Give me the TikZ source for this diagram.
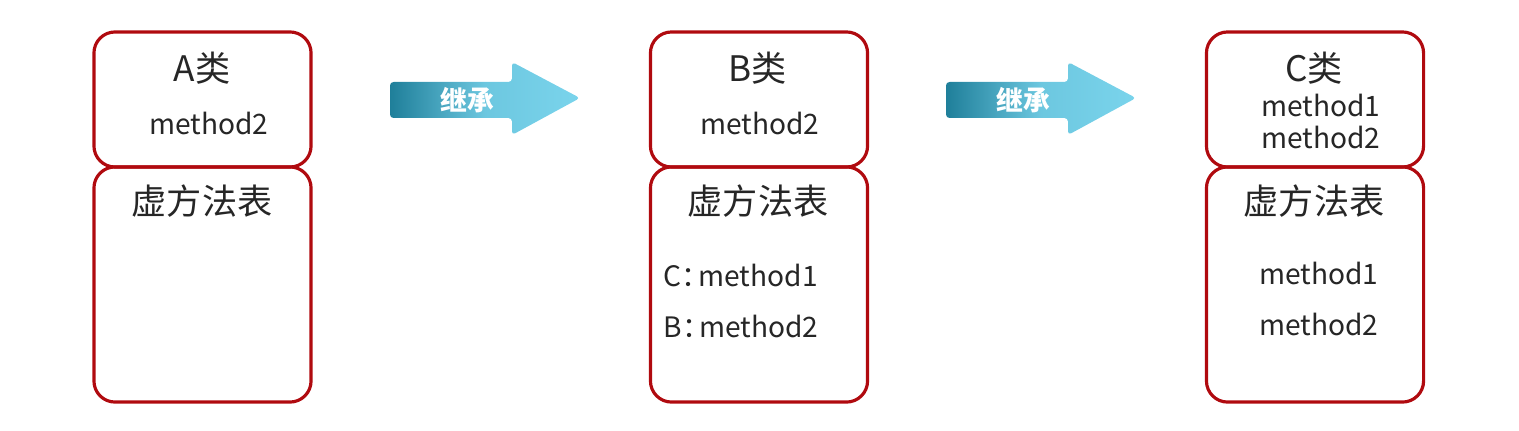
\documentclass[tikz,border=0pt]{standalone}
\usepackage{fontspec}
\setmainfont{Noto Sans CJK SC}
\usetikzlibrary{positioning}
\definecolor{boxred}{HTML}{B00A0F}
\definecolor{arrdark}{HTML}{1F7F9A}
\definecolor{arrlight}{HTML}{7AD4EC}
\tikzset{
    classbox/.style={draw=boxred,line width=0.9pt,rounded corners=6pt,
        minimum width=2.17cm,inner sep=0pt},
    topbox/.style={classbox,minimum height=1.35cm},
    tablebox/.style={classbox,minimum height=2.35cm},
    title/.style={font=\fontsize{10}{12}\selectfont,text=black!85},
    meth/.style={font=\fontsize{8}{10}\selectfont,text=black!85,inner sep=0pt},
    arrtext/.style={font=\bfseries\fontsize{7.6}{9}\selectfont,text=white}
}
\newcommand{\inherit}[2]{% shaft start (x,y) in px units
    \shade[left color=arrdark,right color=arrlight,middle color=arrlight!85!arrdark,rounded corners=1pt]
      (#1,82) -- (#1+122,82) -- (#1+122,62) -- (#1+190,98) -- (#1+122,135)
      -- (#1+122,118) -- (#1,118) -- cycle;
    \node[arrtext] (#2) at (#1+77,100) {继承};
}
\begin{document}
\begin{tikzpicture}[x=0.01cm,y=-0.01cm]
    \useasboundingbox (0,0) rectangle (1519,431);
    % A
    \node[topbox] (atop) at (202.5,99.5) {};
    \node[tablebox] (atab) at (202.5,284.5) {};
    \node[title] (aname) at (202,68) {A类};
    \node[meth] (am2) at (209,123) {method2};
    \node[title] (avt) at (202,201) {虚方法表};
    % B
    \node[topbox] (btop) at (759,99.5) {};
    \node[tablebox] (btab) at (759,284.5) {};
    \node[title] (bname) at (758,68) {B类};
    \node[meth] (bm2) at (760,123) {method2};
    \node[title] (bvt) at (758,201) {虚方法表};
    \node[meth,anchor=west] (bv1) at (663,275) {C：\kern-0.4em method1};
    \node[meth,anchor=west] (bv2) at (663,326) {B：\kern-0.4em method2};
    % C
    \node[topbox] (ctop) at (1315,99.5) {};
    \node[tablebox] (ctab) at (1315,284.5) {};
    \node[title] (cname) at (1314,68) {C类};
    \node[meth] (cm1) at (1321,105) {method1};
    \node[meth] (cm2) at (1321,137) {method2};
    \node[title] (cvt) at (1314,201) {虚方法表};
    \node[meth] (cv1) at (1319,273) {method1};
    \node[meth] (cv2) at (1319,324) {method2};
    % arrows
    \inherit{390}{ab}
    \inherit{946}{bc}
\end{tikzpicture}
\end{document}
